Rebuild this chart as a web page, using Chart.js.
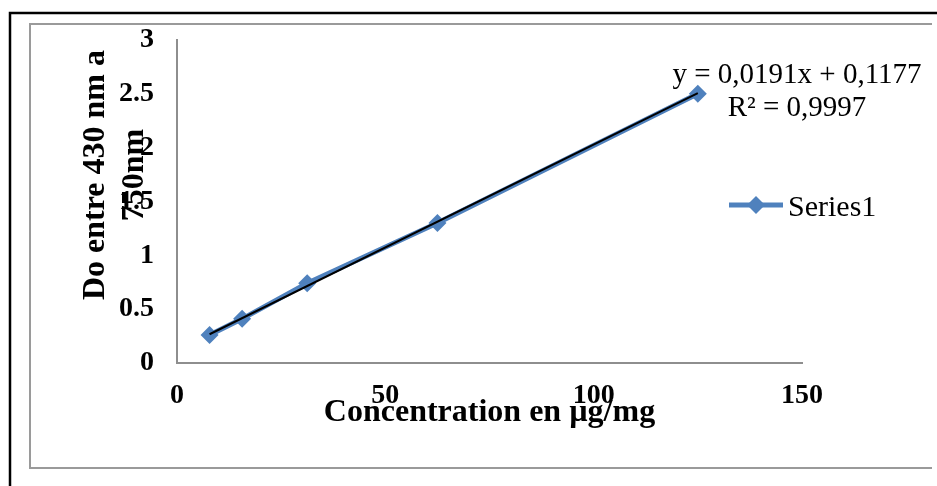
<!DOCTYPE html>
<html>
<head>
<meta charset="utf-8">
<script src="https://cdn.jsdelivr.net/npm/chart.js@4.4.1/dist/chart.umd.min.js"></script>
<style>
  html, body { margin: 0; padding: 0; background: #ffffff; }
  canvas { display: block; }
</style>
</head>
<body>
<canvas id="calib" width="937" height="486"></canvas>
<script>
// Calibration data: concentration (µg/mg) against absorbance
const concentrations = [7.8125, 15.625, 31.25, 62.5, 125];
const absorbances = [0.26, 0.41, 0.74, 1.30, 2.50];
const seriesName = 'Series1';

// Linear fit reported on the chart
const fitSlope = 0.0191;
const fitIntercept = 0.1177;
const fitR2 = 0.9997;

// Axis ticks and titles
const xTickValues = [0, 50, 100, 150];
const yTickValues = [0, 0.5, 1, 1.5, 2, 2.5, 3];
const xTitle = 'Concentration en µg/mg';
const yTitleLines = ['Do entre 430 nm a', '750nm'];

const SERIF = '"Liberation Serif", "Times New Roman", serif';
const BLUE = '#4F81BD';
const AXIS_GREY = '#8e8e8e';

const toComma = v => String(v).replace('.', ',');

const seriesPoints = concentrations.map((x, i) => ({ x, y: absorbances[i] }));
const fitX = [Math.min(...concentrations), Math.max(...concentrations)];
const fitPoints = fitX.map(x => ({ x, y: fitSlope * x + fitIntercept }));

// Outer frame lines behind the chart
const framePlugin = {
  id: 'frame',
  beforeDraw(chart) {
    const ctx = chart.ctx;
    ctx.save();
    ctx.strokeStyle = '#000000';
    ctx.lineWidth = 2.5;
    ctx.beginPath();
    ctx.moveTo(10, 500);
    ctx.lineTo(10, 13);
    ctx.lineTo(940, 13);
    ctx.stroke();
    ctx.strokeStyle = '#9a9a9a';
    ctx.lineWidth = 2;
    ctx.beginPath();
    ctx.moveTo(932, 24);
    ctx.lineTo(30, 24);
    ctx.lineTo(30, 468);
    ctx.lineTo(932, 468);
    ctx.stroke();
    ctx.restore();
  }
};

// Rotated y-axis caption, trendline equation and series key
const annotationsPlugin = {
  id: 'annotations',
  afterDraw(chart) {
    const ctx = chart.ctx;
    ctx.save();

    // y-axis caption
    ctx.fillStyle = '#000000';
    ctx.font = 'bold 32px ' + SERIF;
    ctx.textAlign = 'center';
    ctx.textBaseline = 'middle';
    const capX = [96, 135];
    yTitleLines.forEach((line, i) => {
      ctx.save();
      ctx.translate(capX[i], 175);
      ctx.rotate(-Math.PI / 2);
      ctx.fillText(line, 0, 0);
      ctx.restore();
    });

    // trendline equation
    ctx.font = '29px ' + SERIF;
    ctx.textAlign = 'center';
    ctx.textBaseline = 'alphabetic';
    ctx.fillText('y = ' + toComma(fitSlope) + 'x + ' + toComma(fitIntercept), 797, 83);
    ctx.fillText('R² = ' + toComma(fitR2), 797, 116);

    // series key
    const ds = chart.data.datasets[0];
    ctx.strokeStyle = ds.borderColor;
    ctx.lineWidth = ds.borderWidth;
    ctx.beginPath();
    ctx.moveTo(729, 205);
    ctx.lineTo(783, 205);
    ctx.stroke();
    ctx.fillStyle = ds.pointBackgroundColor;
    Chart.helpers.drawPoint(ctx, { pointStyle: ds.pointStyle, radius: ds.pointRadius, borderWidth: 0 }, 756, 205);
    ctx.fillStyle = '#000000';
    ctx.font = '30px ' + SERIF;
    ctx.textAlign = 'left';
    ctx.fillText(ds.label, 788, 216);

    ctx.restore();
  }
};

new Chart(document.getElementById('calib'), {
  type: 'scatter',
  data: {
    datasets: [
      {
        label: seriesName,
        data: seriesPoints,
        showLine: true,
        borderColor: BLUE,
        borderWidth: 5,
        pointStyle: 'rectRot',
        pointRadius: 9,
        pointBorderWidth: 0,
        pointBackgroundColor: BLUE,
        pointBorderColor: BLUE,
        order: 1
      },
      {
        label: 'Linear (' + seriesName + ')',
        data: fitPoints,
        showLine: true,
        borderColor: '#000000',
        borderWidth: 2,
        pointRadius: 0,
        order: 0
      }
    ]
  },
  options: {
    responsive: false,
    animation: false,
    layout: { padding: { top: 38, right: 135, bottom: 0, left: 0 } },
    plugins: {
      legend: { display: false },
      tooltip: { enabled: false }
    },
    scales: {
      x: {
        type: 'linear',
        min: xTickValues[0],
        max: xTickValues[xTickValues.length - 1],
        afterBuildTicks: s => { s.ticks = xTickValues.map(v => ({ value: v })); },
        afterFit: s => { s.height = 123; },
        grid: { display: false, drawTicks: false },
        border: { display: true, color: AXIS_GREY, width: 2 },
        ticks: {
          color: '#000000',
          padding: 16,
          maxRotation: 0,
          autoSkip: false,
          callback: v => String(v),
          font: { family: SERIF, size: 28, weight: 'bold' }
        },
        title: {
          display: true,
          text: xTitle,
          color: '#000000',
          padding: { top: 0, bottom: 54 },
          font: { family: SERIF, size: 32, weight: 'bold' }
        }
      },
      y: {
        type: 'linear',
        min: yTickValues[0],
        max: yTickValues[yTickValues.length - 1],
        afterBuildTicks: s => { s.ticks = yTickValues.map(v => ({ value: v })); },
        afterFit: s => { s.width = 177; },
        grid: { display: false, drawTicks: false },
        border: { display: true, color: AXIS_GREY, width: 2 },
        ticks: {
          color: '#000000',
          padding: 23,
          autoSkip: false,
          callback: v => String(v),
          font: { family: SERIF, size: 28, weight: 'bold' }
        }
      }
    }
  },
  plugins: [framePlugin, annotationsPlugin]
});
</script>
</body>
</html>
